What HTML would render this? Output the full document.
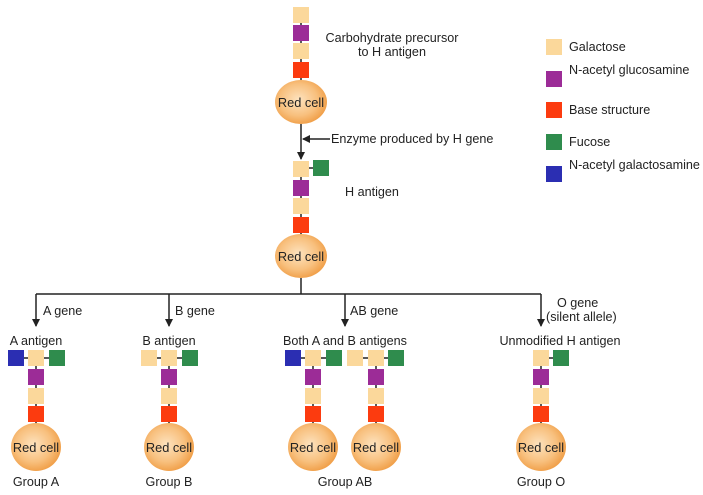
<!DOCTYPE html>
<html><head><meta charset="utf-8"><style>
html,body{margin:0;padding:0;background:#fff;width:703px;height:495px;overflow:hidden}
text{font-family:"Liberation Sans",Arial,sans-serif;font-size:12.6px;fill:#222}
text.c{font-size:12.8px}
.g{fill:#fbd89b}.p{fill:#9c2c97}.r{fill:#fc3b0f}.f{fill:#2f8c4d}.b{fill:#2b2eb2}
</style></head><body>
<svg width="703" height="495" viewBox="0 0 703 495" xmlns="http://www.w3.org/2000/svg">
<defs>
<radialGradient id="cg" cx="0.45" cy="0.45" r="0.6">
<stop offset="0" stop-color="#fde3bf"/><stop offset="0.6" stop-color="#f8c07e"/><stop offset="1" stop-color="#ef9a40"/>
</radialGradient>
<marker id="ah" markerWidth="8" markerHeight="8" refX="7" refY="4" orient="auto" markerUnits="userSpaceOnUse">
<path d="M0,0 L8,4 L0,8 z" fill="#222"/></marker>
</defs>
<g stroke="#222" stroke-width="1.5" fill="none">
<line x1="301" y1="7" x2="301" y2="80"/>
<line x1="301" y1="124" x2="301" y2="159" marker-end="url(#ah)"/>
<line x1="330" y1="139" x2="303" y2="139" marker-end="url(#ah)"/>
<line x1="301" y1="161" x2="301" y2="234"/>
<line x1="309" y1="168" x2="313" y2="168"/>
<line x1="301" y1="278" x2="301" y2="294"/>
<line x1="36" y1="294" x2="541" y2="294"/>
<line x1="36" y1="294" x2="36" y2="326" marker-end="url(#ah)"/>
<line x1="169" y1="294" x2="169" y2="326" marker-end="url(#ah)"/>
<line x1="345" y1="294" x2="345" y2="326" marker-end="url(#ah)"/>
<line x1="541" y1="294" x2="541" y2="326" marker-end="url(#ah)"/>
<line x1="36" y1="350" x2="36" y2="424"/><line x1="15" y1="358" x2="57" y2="358"/>
<line x1="169" y1="350" x2="169" y2="424"/><line x1="148" y1="358" x2="190" y2="358"/>
<line x1="313" y1="350" x2="313" y2="424"/><line x1="292" y1="358" x2="334" y2="358"/>
<line x1="376" y1="350" x2="376" y2="424"/><line x1="355" y1="358" x2="397" y2="358"/>
<line x1="541" y1="350" x2="541" y2="424"/><line x1="541" y1="358" x2="562" y2="358"/>
</g>
<rect class="g" x="293" y="7" width="16" height="16"/>
<rect class="p" x="293" y="25" width="16" height="16"/>
<rect class="g" x="293" y="43" width="16" height="16"/>
<rect class="r" x="293" y="62" width="16" height="16"/>
<ellipse cx="301" cy="102" rx="26" ry="22" fill="url(#cg)"/>
<text class="c" x="301" y="107" text-anchor="middle">Red cell</text>
<text x="392" y="42" text-anchor="middle">Carbohydrate precursor</text>
<text x="392" y="56" text-anchor="middle">to H antigen</text>
<text x="331" y="143">Enzyme produced by H gene</text>
<rect class="g" x="293" y="161" width="16" height="16"/>
<rect class="f" x="313" y="160" width="16" height="16"/>
<rect class="p" x="293" y="180" width="16" height="16"/>
<rect class="g" x="293" y="198" width="16" height="16"/>
<rect class="r" x="293" y="217" width="16" height="16"/>
<ellipse cx="301" cy="256" rx="26" ry="22" fill="url(#cg)"/>
<text class="c" x="301" y="261" text-anchor="middle">Red cell</text>
<text x="345" y="196">H antigen</text>
<text x="43" y="315">A gene</text>
<text x="175" y="315">B gene</text>
<text x="350" y="315">AB gene</text>
<text x="557" y="307">O gene</text>
<text x="546" y="321">(silent allele)</text>
<text x="36" y="345" text-anchor="middle">A antigen</text>
<text x="169" y="345" text-anchor="middle">B antigen</text>
<text x="345" y="345" text-anchor="middle">Both A and B antigens</text>
<text x="560" y="345" text-anchor="middle">Unmodified H antigen</text>
<rect class="b" x="8" y="350" width="16" height="16"/>
<rect class="g" x="28" y="350" width="16" height="16"/>
<rect class="f" x="49" y="350" width="16" height="16"/>
<rect class="p" x="28" y="369" width="16" height="16"/>
<rect class="g" x="28" y="388" width="16" height="16"/>
<rect class="r" x="28" y="406" width="16" height="16"/>
<ellipse cx="36" cy="447" rx="25" ry="24" fill="url(#cg)"/>
<text class="c" x="36" y="452" text-anchor="middle">Red cell</text>
<text x="36" y="486" text-anchor="middle">Group A</text>
<rect class="g" x="141" y="350" width="16" height="16"/>
<rect class="g" x="161" y="350" width="16" height="16"/>
<rect class="f" x="182" y="350" width="16" height="16"/>
<rect class="p" x="161" y="369" width="16" height="16"/>
<rect class="g" x="161" y="388" width="16" height="16"/>
<rect class="r" x="161" y="406" width="16" height="16"/>
<ellipse cx="169" cy="447" rx="25" ry="24" fill="url(#cg)"/>
<text class="c" x="169" y="452" text-anchor="middle">Red cell</text>
<text x="169" y="486" text-anchor="middle">Group B</text>
<rect class="b" x="285" y="350" width="16" height="16"/>
<rect class="g" x="305" y="350" width="16" height="16"/>
<rect class="f" x="326" y="350" width="16" height="16"/>
<rect class="p" x="305" y="369" width="16" height="16"/>
<rect class="g" x="305" y="388" width="16" height="16"/>
<rect class="r" x="305" y="406" width="16" height="16"/>
<ellipse cx="313" cy="447" rx="25" ry="24" fill="url(#cg)"/>
<text class="c" x="313" y="452" text-anchor="middle">Red cell</text>
<rect class="g" x="347" y="350" width="16" height="16"/>
<rect class="g" x="368" y="350" width="16" height="16"/>
<rect class="f" x="388" y="350" width="16" height="16"/>
<rect class="p" x="368" y="369" width="16" height="16"/>
<rect class="g" x="368" y="388" width="16" height="16"/>
<rect class="r" x="368" y="406" width="16" height="16"/>
<ellipse cx="376" cy="447" rx="25" ry="24" fill="url(#cg)"/>
<text class="c" x="376" y="452" text-anchor="middle">Red cell</text>
<text x="345" y="486" text-anchor="middle">Group AB</text>
<rect class="g" x="533" y="350" width="16" height="16"/>
<rect class="f" x="553" y="350" width="16" height="16"/>
<rect class="p" x="533" y="369" width="16" height="16"/>
<rect class="g" x="533" y="388" width="16" height="16"/>
<rect class="r" x="533" y="406" width="16" height="16"/>
<ellipse cx="541" cy="447" rx="25" ry="24" fill="url(#cg)"/>
<text class="c" x="541" y="452" text-anchor="middle">Red cell</text>
<text x="541" y="486" text-anchor="middle">Group O</text>
<rect class="g" x="546" y="39" width="16" height="16"/>
<text x="569" y="51">Galactose</text>
<rect class="p" x="546" y="71" width="16" height="16"/>
<text x="569" y="74">N-acetyl glucosamine</text>
<rect class="r" x="546" y="102" width="16" height="16"/>
<text x="569" y="114">Base structure</text>
<rect class="f" x="546" y="134" width="16" height="16"/>
<text x="569" y="146">Fucose</text>
<rect class="b" x="546" y="166" width="16" height="16"/>
<text x="569" y="169">N-acetyl galactosamine</text>
</svg>
</body></html>
